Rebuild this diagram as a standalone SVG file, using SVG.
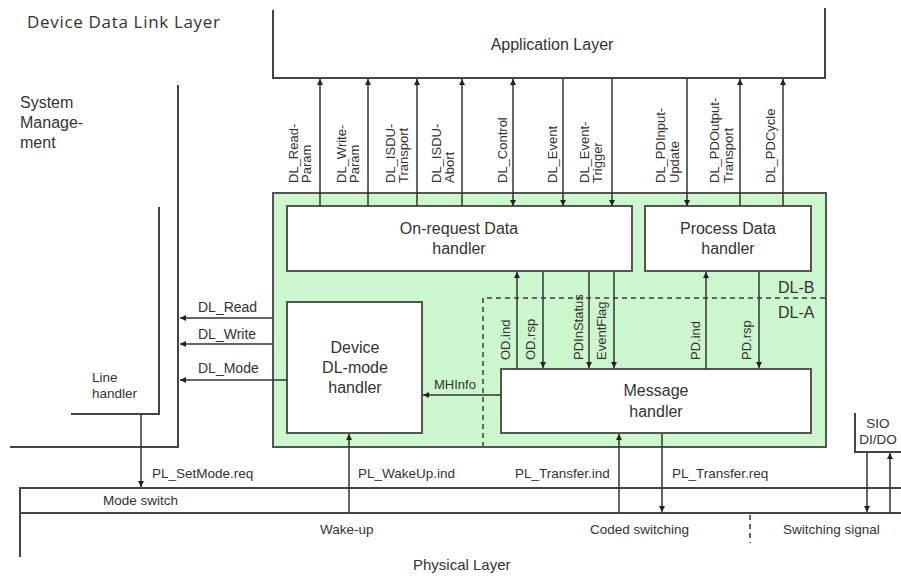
<svg xmlns="http://www.w3.org/2000/svg" width="901" height="576" viewBox="0 0 901 576">
<style>
.t{font-family:"Liberation Sans",Arial,sans-serif;fill:#333;font-size:13px}
.b{font-size:13.5px}
.m{font-size:16px}
.c{text-anchor:middle}
.bx{fill:#fff;stroke:#555;stroke-width:2}
.ln{fill:none;stroke:#444;stroke-width:2}
.cn{fill:none;stroke:#333;stroke-width:1.5}
.ds{fill:none;stroke:#666;stroke-width:2;stroke-dasharray:5,4}
</style>
<defs>
<marker id="ah" markerUnits="userSpaceOnUse" markerWidth="7" markerHeight="7" refX="6" refY="3" orient="auto-start-reverse">
<path d="M0,0 L6,3 L0,6 z" fill="#222"/>
</marker>
</defs>
<rect width="901" height="576" fill="#fff"/>

<text class="t" x="27" y="28" style="font-size:17px;font-family:'Open Sans','Liberation Sans',sans-serif" textLength="193">Device Data Link Layer</text>

<g id="application-layer">
<path class="ln" d="M273,10 V78 H825 V8"/>
<text class="t c" x="552" y="50" style="font-size:16px">Application Layer</text>
</g>

<g id="system-management">
<path class="ln" d="M178,85 V447 H10"/>
<text class="t m" x="20" y="108">System</text>
<text class="t m" x="20" y="128">Manage-</text>
<text class="t m" x="20" y="148">ment</text>
</g>

<g id="line-handler">
<path class="ln" d="M159,207 V414 H71"/>
<text class="t b" x="92" y="382">Line</text>
<text class="t b" x="92" y="398">handler</text>
</g>

<g id="dl-box">
<rect x="273" y="193" width="553" height="254" fill="#ccf7cc" stroke="#555" stroke-width="2"/>
<path class="ds" d="M483,447 V298 H826"/>
<text class="t m" x="778" y="293">DL-B</text>
<text class="t m" x="778" y="318">DL-A</text>
</g>

<g id="on-request-data-handler">
<rect class="bx" x="287" y="206" width="345" height="65"/>
<text class="t m c" x="459" y="234">On-request Data</text>
<text class="t m c" x="459" y="254">handler</text>
</g>

<g id="process-data-handler">
<rect class="bx" x="645" y="206" width="166" height="65"/>
<text class="t m c" x="728" y="234">Process Data</text>
<text class="t m c" x="728" y="254">handler</text>
</g>

<g id="device-dl-mode-handler">
<rect class="bx" x="287" y="302" width="135" height="131"/>
<text class="t m c" x="355" y="353">Device</text>
<text class="t m c" x="355" y="373">DL-mode</text>
<text class="t m c" x="355" y="393">handler</text>
</g>

<g id="message-handler">
<rect class="bx" x="501" y="369" width="310" height="64"/>
<text class="t m c" x="656" y="396">Message</text>
<text class="t m c" x="656" y="417">handler</text>
</g>

<g id="physical-layer">
<path class="ln" d="M901,488 H20 V557 M20,513 H901"/>
<path class="ds" d="M750,515 V543"/>
<text class="t b" x="103" y="505">Mode switch</text>
<text class="t b" x="320" y="534">Wake-up</text>
<text class="t b" x="590" y="534">Coded switching</text>
<text class="t b" x="783" y="534">Switching signal</text>
<text class="t" x="413" y="570" style="font-size:15px">Physical Layer</text>
</g>

<g id="sio-dido">
<path class="ln" d="M855,413 V452 H901"/>
<text class="t b c" x="878" y="428">SIO</text>
<text class="t b c" x="878" y="444">DI/DO</text>
</g>

<g id="connectors">
<path class="cn" d="M320,206 V79" marker-end="url(#ah)"/>
<path class="cn" d="M368,206 V79" marker-end="url(#ah)"/>
<path class="cn" d="M417,206 V79" marker-end="url(#ah)"/>
<path class="cn" d="M462,206 V79" marker-end="url(#ah)"/>
<path class="cn" d="M513,206 V79" marker-start="url(#ah)" marker-end="url(#ah)"/>
<path class="cn" d="M563,79 V206" marker-end="url(#ah)"/>
<path class="cn" d="M612,79 V206" marker-end="url(#ah)"/>
<path class="cn" d="M687,79 V206" marker-end="url(#ah)"/>
<path class="cn" d="M740,206 V79" marker-end="url(#ah)"/>
<path class="cn" d="M783,206 V79" marker-end="url(#ah)"/>

<path class="cn" d="M517,369 V272" marker-end="url(#ah)"/>
<path class="cn" d="M543,272 V368" marker-end="url(#ah)"/>
<path class="cn" d="M589,272 V368" marker-end="url(#ah)"/>
<path class="cn" d="M614,272 V368" marker-end="url(#ah)"/>
<path class="cn" d="M706,369 V272" marker-end="url(#ah)"/>
<path class="cn" d="M759,272 V368" marker-end="url(#ah)"/>

<path class="cn" d="M501,395 H423" marker-end="url(#ah)"/>
<path class="cn" d="M273,318 H180" marker-end="url(#ah)"/>
<path class="cn" d="M273,344 H180" marker-end="url(#ah)"/>
<path class="cn" d="M287,380 H180" marker-end="url(#ah)"/>

<path class="cn" d="M141,414 V487" marker-end="url(#ah)"/>
<path class="cn" d="M349,513 V434" marker-end="url(#ah)"/>
<path class="cn" d="M619,513 V434" marker-end="url(#ah)"/>
<path class="cn" d="M662,434 V512" marker-end="url(#ah)"/>
<path class="cn" d="M867,452 V512" marker-end="url(#ah)"/>
<path class="cn" d="M890,513 V453" marker-end="url(#ah)"/>

<g class="t">
<text transform="translate(298,183) rotate(-90)">DL_Read-</text>
<text transform="translate(311,183) rotate(-90)">Param</text>
<text transform="translate(346,183) rotate(-90)">DL_Write-</text>
<text transform="translate(359,183) rotate(-90)">Param</text>
<text transform="translate(395,183) rotate(-90)">DL_ISDU-</text>
<text transform="translate(408,183) rotate(-90)">Transport</text>
<text transform="translate(441,183) rotate(-90)">DL_ISDU-</text>
<text transform="translate(454,183) rotate(-90)">Abort</text>
<text transform="translate(507,183) rotate(-90)">DL_Control</text>
<text transform="translate(557,183) rotate(-90)">DL_Event</text>
<text transform="translate(589,183) rotate(-90)">DL_Event-</text>
<text transform="translate(602,183) rotate(-90)">Trigger</text>
<text transform="translate(665,183) rotate(-90)">DL_PDInput-</text>
<text transform="translate(679,183) rotate(-90)">Update</text>
<text transform="translate(719,183) rotate(-90)">DL_PDOutput-</text>
<text transform="translate(733,183) rotate(-90)">Transport</text>
<text transform="translate(775,183) rotate(-90)">DL_PDCycle</text>

<text transform="translate(510,360) rotate(-90)">OD.ind</text>
<text transform="translate(535,360) rotate(-90)">OD.rsp</text>
<text transform="translate(583,360) rotate(-90)">PDInStatus</text>
<text transform="translate(606,360) rotate(-90)">EventFlag</text>
<text transform="translate(700,360) rotate(-90)">PD.ind</text>
<text transform="translate(751,360) rotate(-90)">PD.rsp</text>

<text x="198" y="312" style="font-size:14px">DL_Read</text>
<text x="198" y="339" style="font-size:14px">DL_Write</text>
<text x="198" y="373" style="font-size:14px">DL_Mode</text>
<text x="434" y="389">MHInfo</text>
<text class="b" x="152" y="478">PL_SetMode.req</text>
<text class="b" x="358" y="478">PL_WakeUp.ind</text>
<text class="b" x="515" y="478">PL_Transfer.ind</text>
<text class="b" x="672" y="478">PL_Transfer.req</text>
</g>
</g>
</svg>
